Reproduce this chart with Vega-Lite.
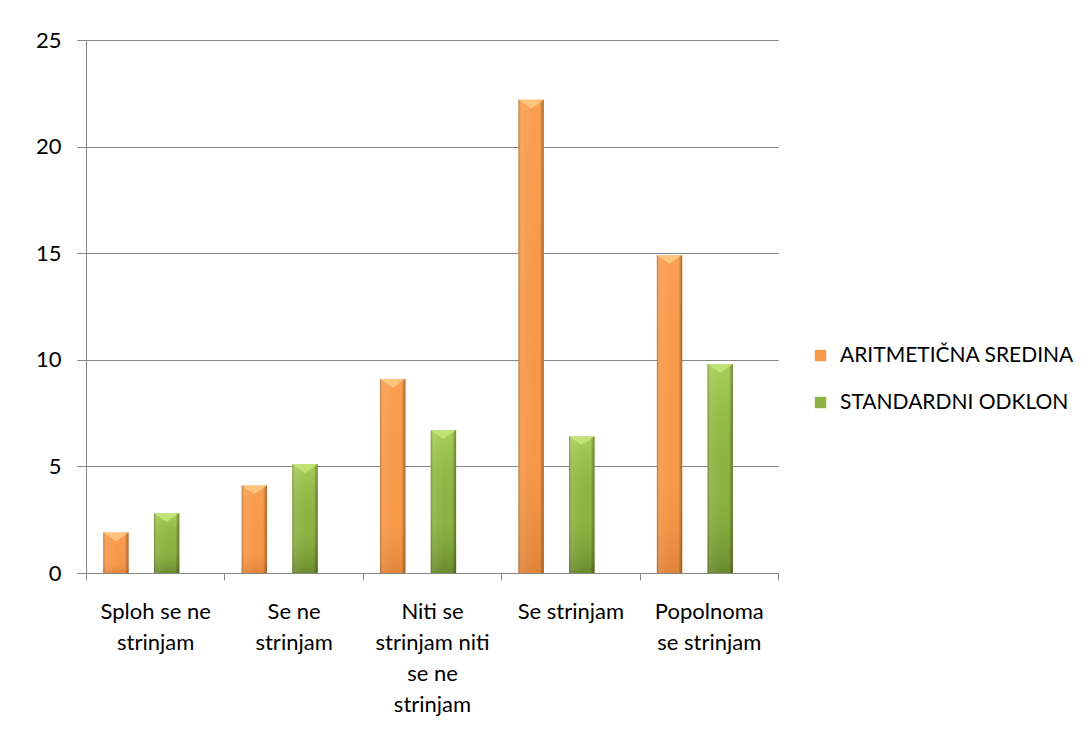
{
  "$schema": "https://vega.github.io/schema/vega-lite/v6.json",
  "autosize": {"type": "none"},
  "width": 692,
  "height": 533,
  "padding": {"left": 86, "top": 40, "right": 314, "bottom": 167},
  "background": "white",
  "config": {
    "font": "Lato",
    "view": {"stroke": null},
    "axis": {"labelFont": "Lato", "labelColor": "#000000", "labelFontSize": 22, "titleFont": "Lato"},
    "legend": {"labelFont": "Lato"}
  },
  "data": {
    "values": [
      {"odgovor": "Sploh se ne strinjam", "serija": "ARITMETIČNA SREDINA", "vrednost": 1.9},
      {"odgovor": "Sploh se ne strinjam", "serija": "STANDARDNI ODKLON", "vrednost": 2.8},
      {"odgovor": "Se ne strinjam", "serija": "ARITMETIČNA SREDINA", "vrednost": 4.1},
      {"odgovor": "Se ne strinjam", "serija": "STANDARDNI ODKLON", "vrednost": 5.1},
      {"odgovor": "Niti se strinjam niti se ne strinjam", "serija": "ARITMETIČNA SREDINA", "vrednost": 9.1},
      {"odgovor": "Niti se strinjam niti se ne strinjam", "serija": "STANDARDNI ODKLON", "vrednost": 6.7},
      {"odgovor": "Se strinjam", "serija": "ARITMETIČNA SREDINA", "vrednost": 22.2},
      {"odgovor": "Se strinjam", "serija": "STANDARDNI ODKLON", "vrednost": 6.4},
      {"odgovor": "Popolnoma se strinjam", "serija": "ARITMETIČNA SREDINA", "vrednost": 14.9},
      {"odgovor": "Popolnoma se strinjam", "serija": "STANDARDNI ODKLON", "vrednost": 9.8}
    ]
  },
  "encoding": {
    "x": {
      "field": "odgovor",
      "type": "nominal",
      "sort": null,
      "scale": {"paddingInner": 0, "paddingOuter": 0},
      "axis": {
        "title": null,
        "labelAngle": 0,
        "labelAlign": "center",
        "labelBaseline": "top",
        "labelPadding": 21,
        "labelLineHeight": 31,
        "labelLimit": 0,
        "labelExpr": "datum.value == 'Sploh se ne strinjam' ? ['Sploh se ne', 'strinjam'] : datum.value == 'Se ne strinjam' ? ['Se ne', 'strinjam'] : datum.value == 'Niti se strinjam niti se ne strinjam' ? ['Niti se', 'strinjam  niti', 'se ne', 'strinjam'] : datum.value == 'Popolnoma se strinjam' ? ['Popolnoma', 'se strinjam'] : datum.value",
        "tickBand": "extent",
        "tickSize": 7,
        "tickColor": "#868686",
        "domainColor": "#868686",
        "grid": false
      }
    },
    "xOffset": {
      "field": "serija",
      "type": "nominal",
      "scale": {"paddingInner": 0.5, "paddingOuter": 0.615, "align": 0.277}
    },
    "y": {
      "field": "vrednost",
      "type": "quantitative",
      "scale": {"domain": [0, 25], "nice": false},
      "axis": {
        "title": null,
        "values": [0, 5, 10, 15, 20, 25],
        "tickSize": 9,
        "tickColor": "#868686",
        "domainColor": "#868686",
        "gridColor": "#868686",
        "labelPadding": 16
      }
    }
  },
  "layer": [
    {
      "mark": {"type": "bar"},
      "encoding": {
        "color": {
          "field": "serija",
          "type": "nominal",
          "scale": {
            "domain": ["ARITMETIČNA SREDINA", "STANDARDNI ODKLON"],
            "range": ["#F8994A", "#8DB443"]
          },
          "legend": {
            "title": null,
            "orient": "none",
            "legendX": 724,
            "legendY": 305,
            "symbolType": "square",
            "symbolSize": 130,
            "symbolStrokeWidth": 0,
            "labelFontSize": 21,
            "labelColor": "#000000",
            "labelLimit": 0,
            "rowPadding": 25,
            "labelOffset": 9
          }
        }
      }
    },
    {
      "transform": [{"filter": "datum.serija == 'STANDARDNI ODKLON'"}],
      "mark": {
        "type": "bar",
        "fill": {
          "gradient": "linear",
          "x1": 0, "y1": 0, "x2": 0, "y2": 1,
          "stops": [
            {"offset": 0, "color": "rgba(190,230,110,0.55)"},
            {"offset": 0.5, "color": "rgba(150,190,70,0.0)"},
            {"offset": 1, "color": "rgba(60,85,20,0.45)"}
          ]
        }
      }
    },
    {
      "transform": [{"filter": "datum.serija == 'ARITMETIČNA SREDINA'"}],
      "mark": {
        "type": "bar",
        "fill": {
          "gradient": "linear",
          "x1": 0, "y1": 0, "x2": 0, "y2": 1,
          "stops": [
            {"offset": 0, "color": "rgba(255,180,110,0.25)"},
            {"offset": 0.7, "color": "rgba(240,140,60,0.0)"},
            {"offset": 1, "color": "rgba(150,70,10,0.25)"}
          ]
        }
      }
    },
    {
      "mark": {
        "type": "bar",
        "fill": {
          "gradient": "linear",
          "x1": 0, "y1": 0, "x2": 1, "y2": 0,
          "stops": [
            {"offset": 0, "color": "rgba(70,40,0,0.35)"},
            {"offset": 0.12, "color": "rgba(255,255,255,0.08)"},
            {"offset": 0.5, "color": "rgba(255,255,255,0.0)"},
            {"offset": 0.85, "color": "rgba(0,0,0,0.0)"},
            {"offset": 1, "color": "rgba(50,30,0,0.4)"}
          ]
        }
      }
    },
    {
      "mark": {
        "type": "point",
        "shape": "M-1,0L1,0L0,0.7Z",
        "size": 625,
        "filled": true,
        "opacity": 0.75,
        "strokeWidth": 0
      },
      "encoding": {
        "color": {
          "field": "serija",
          "type": "nominal",
          "scale": {"domain": ["ARITMETIČNA SREDINA", "STANDARDNI ODKLON"], "range": ["#FFD08C", "#CBEB80"]},
          "legend": null
        }
      }
    }
  ],
  "resolve": {"scale": {"color": "independent"}}
}
